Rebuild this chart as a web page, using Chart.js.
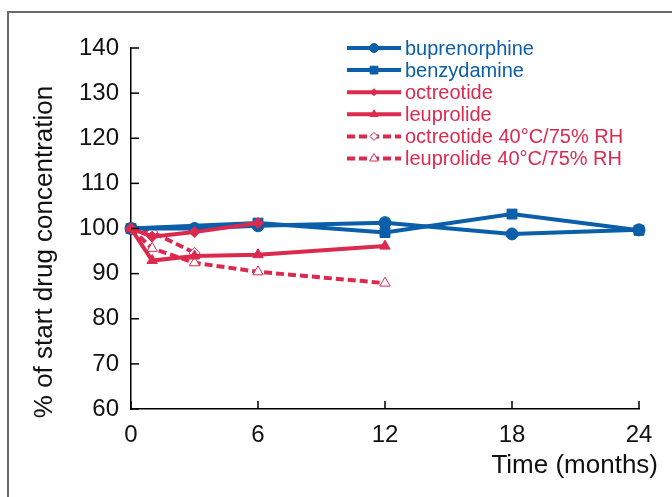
<!DOCTYPE html>
<html>
<head>
<meta charset="utf-8">
<script src="https://cdn.jsdelivr.net/npm/chart.js@4/dist/chart.umd.min.js"></script>
<style>
  body { margin: 0; background: #fff; }
  #wrap { position: relative; width: 672px; height: 497px; overflow: hidden; }
  #frame { position: absolute; left: 7px; top: 11px; width: 700px; height: 600px;
           border: 2px solid #6a6a6a; pointer-events: none; }
  canvas { position: absolute; left: 0; top: 0; }
</style>
</head>
<body>
<div id="wrap">
  <canvas id="chart" width="672" height="497"></canvas>
  <div id="frame"></div>
</div>
<script>
// values
const bupMonths = [0, 3, 6, 12, 18, 24];
const bupValues = [100, 100, 100.6, 101.3, 98.8, 99.7];
const benMonths = [0, 6, 12, 18, 24];
const benValues = [100, 101.2, 99.1, 103.2, 99.6];
const octMonths = [0, 1, 3, 6];
const octValues = [100, 98.2, 99.2, 101.2];
const leuMonths = [0, 1, 3, 6, 12];
const leuValues = [100, 92.9, 93.9, 94.2, 96.1];
const oct40Months = [0, 1, 3];
const oct40Values = [100, 99.2, 94.6];
const leu40Months = [0, 1, 3, 6, 12];
const leu40Values = [100, 95.6, 92.4, 90.4, 87.9];

const xTicks = [0, 6, 12, 18, 24];
const yTicks = [60, 70, 80, 90, 100, 110, 120, 130, 140];

const blue = '#0b5ea8';
const red = '#dc2a4f';
const font = "'Liberation Sans', Arial, sans-serif";

function pts(xs, ys) {
    return xs.map((x, i) => ({ x: x, y: ys[i] }));
}

function series(label, xs, ys, color, style, radius, hollow, dashed, order, legendRadius) {
    return {
        label: label,
        data: pts(xs, ys),
        borderColor: color,
        backgroundColor: color,
        borderWidth: 4,
        borderDash: dashed ? [8, 4] : [],
        pointStyle: style,
        pointRadius: radius,
        pointBorderWidth: 1,
        pointBackgroundColor: hollow ? '#fff' : color,
        pointBorderColor: color,
        tension: 0,
        fill: false,
        order: order,
        legendRadius: legendRadius
    };
}

// draws the legend, the titles and the inward ticks
const extras = {
    id: 'extras',
    afterDraw(chart) {
        const ctx = chart.ctx;
        const xs = chart.scales.x, ys = chart.scales.y;
        ctx.save();
        ctx.strokeStyle = '#000';
        ctx.lineWidth = 1.5;
        yTicks.forEach(v => {
            const y = ys.getPixelForValue(v);
            ctx.beginPath(); ctx.moveTo(xs.left, y); ctx.lineTo(xs.left + 8, y); ctx.stroke();
        });
        xTicks.forEach(v => {
            const x = xs.getPixelForValue(v);
            ctx.beginPath(); ctx.moveTo(x, ys.bottom); ctx.lineTo(x, ys.bottom - 8); ctx.stroke();
        });

        ctx.fillStyle = '#111';
        ctx.font = '26px ' + font;
        ctx.textAlign = 'right';
        ctx.textBaseline = 'middle';
        ctx.fillText('Time (months)', 658, 466);
        ctx.translate(45, 252);
        ctx.rotate(-Math.PI / 2);
        ctx.textAlign = 'center';
        ctx.fillText('% of start drug concentration', 0, 0);
        ctx.restore();

        // legend
        ctx.save();
        ctx.font = '20px ' + font;
        ctx.textBaseline = 'middle';
        chart.data.datasets.forEach((ds, i) => {
            const y = 48 + i * 22.1;
            ctx.strokeStyle = ds.borderColor;
            ctx.lineWidth = 4;
            ctx.setLineDash(ds.borderDash);
            ctx.beginPath(); ctx.moveTo(347, y); ctx.lineTo(401, y); ctx.stroke();
            ctx.setLineDash([]);
            ctx.lineWidth = 1;
            ctx.fillStyle = ds.pointBackgroundColor;
            Chart.helpers.drawPoint(ctx, { pointStyle: ds.pointStyle, radius: ds.legendRadius, borderWidth: 1, rotation: 0 }, 374, y);
            ctx.fillStyle = ds.borderColor;
            ctx.textAlign = 'left';
            ctx.fillText(ds.label, 405, y + 1);
        });
        ctx.restore();
    }
};

const ctx = document.getElementById('chart').getContext('2d');
const chart = new Chart(ctx, {
    type: 'line',
    data: {
        datasets: [
            series('buprenorphine', bupMonths, bupValues, blue, 'circle', 6, false, false, 3, 4.5),
            series('benzydamine', benMonths, benValues, blue, 'rect', 7, false, false, 2, 5.5),
            series('octreotide', octMonths, octValues, red, 'rectRot', 5.5, false, false, 0, 3.5),
            series('leuprolide', leuMonths, leuValues, red, 'triangle', 6, false, false, 1, 4.5),
            series('octreotide 40°C/75% RH', oct40Months, oct40Values, red, 'rectRot', 5.5, true, true, 4, 4),
            series('leuprolide 40°C/75% RH', leu40Months, leu40Values, red, 'triangle', 6, true, true, 5, 5)
        ]
    },
    options: {
        responsive: false,
        animation: false,
        clip: false,
        layout: { padding: { left: 0, top: 48, right: 33, bottom: 0 } },
        plugins: { legend: { display: false }, tooltip: { enabled: false } },
        scales: {
            x: {
                type: 'linear',
                min: 0, max: 24,
                afterFit(scale) { scale.height = 88; },
                afterBuildTicks(scale) { scale.ticks = xTicks.map(v => ({ value: v })); },
                grid: { display: false, drawTicks: false },
                border: { display: true, color: '#000', width: 1.5 },
                ticks: { color: '#111', font: { family: font, size: 24 }, padding: 12, maxRotation: 0 }
            },
            y: {
                min: 60, max: 140,
                afterFit(scale) { scale.width = 131; },
                afterBuildTicks(scale) { scale.ticks = yTicks.map(v => ({ value: v })); },
                grid: { display: false, drawTicks: false },
                border: { display: true, color: '#000', width: 1.5 },
                ticks: { color: '#111', font: { family: font, size: 24 }, padding: 12 }
            }
        }
    },
    plugins: [extras]
});
</script>
</body>
</html>
